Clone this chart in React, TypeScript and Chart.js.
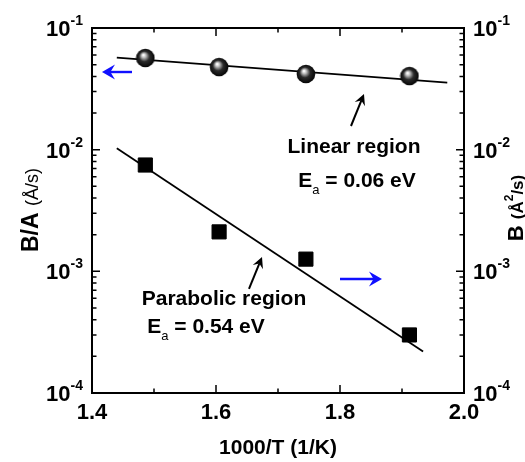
import React, { useEffect, useRef } from "react";
import { Chart, registerables } from "chart.js";

Chart.register(...registerables);

// ---- data ----
const invT = [1.486, 1.605, 1.745, 1.912];
const linearBA = [0.0567, 0.0478, 0.0419, 0.0403];
const parabolicB = [0.00748, 0.00211, 0.00126, 0.0003];
const linearFitX = [1.44, 1.973];
const linearFitY = [0.057, 0.0356];
const parabolicFitX = [1.44, 1.934];
const parabolicFitY = [0.01027, 0.000219];

const xMajorTicks = [1.4, 1.6, 1.8, 2.0];
const xMinorTicks = [1.5, 1.7, 1.9];
const xTickLabels = ["1.4", "1.6", "1.8", "2.0"];
const yDecades = [1e-4, 1e-3, 1e-2, 1e-1];
const yDecadeExponents = ["-4", "-3", "-2", "-1"];

// annotation anchors (data space)
const blueLeftArrow = { x0: 1.4645, x1: 1.4161, y: 0.04348 };
const blueRightArrow = { x0: 1.8, x1: 1.8677, y: 0.000865 };
const linArrow = { x0: 1.8177, y0: 0.01565, x1: 1.8387, y1: 0.02868 };
const parArrow = { x0: 1.6532, y0: 0.000716, x1: 1.6742, y1: 0.001312 };
const linText = { x: 1.8226, y: 0.00939, label: "Linear region" };
const linEa = { x: 1.8274, y: 0.004934, value: " = 0.06 eV" };
const parText = { x: 1.6129, y: 0.000529, label: "Parabolic region" };
const parEa = { x: 1.5839, y: 0.000311, value: " = 0.54 eV" };

const FF = '"Liberation Sans", Arial, Helvetica, sans-serif';
const fBold = (s: number) => `bold ${s}px ${FF}`;
const fNorm = (s: number) => `${s}px ${FF}`;

type Run = { text: string; font: string; dy?: number };

function drawRuns(ctx: CanvasRenderingContext2D, runs: Run[], x: number, y: number, align: "left" | "center" | "right") {
  ctx.save();
  ctx.textAlign = "left";
  ctx.textBaseline = "alphabetic";
  let total = 0;
  const widths = runs.map((r) => {
    ctx.font = r.font;
    const w = ctx.measureText(r.text).width;
    total += w;
    return w;
  });
  let cx = align === "left" ? x : align === "center" ? x - total / 2 : x - total;
  runs.forEach((r, i) => {
    ctx.font = r.font;
    ctx.fillText(r.text, cx, y + (r.dy || 0));
    cx += widths[i];
  });
  ctx.restore();
}

function makeSphere(): HTMLCanvasElement {
  const size = 20;
  const c = document.createElement("canvas");
  c.width = size;
  c.height = size;
  const g = c.getContext("2d")!;
  const grad = g.createRadialGradient(8, 7, 0.5, 10, 10, 10);
  grad.addColorStop(0, "#ffffff");
  grad.addColorStop(0.18, "#bdbdbd");
  grad.addColorStop(0.5, "#2a2a2a");
  grad.addColorStop(1, "#000000");
  g.beginPath();
  g.arc(10, 10, 9.3, 0, Math.PI * 2);
  g.fillStyle = grad;
  g.fill();
  return c;
}

function arrow(ctx: CanvasRenderingContext2D, x0: number, y0: number, x1: number, y1: number, color: string, lw: number, headLen: number, headW: number) {
  const ang = Math.atan2(y1 - y0, x1 - x0);
  ctx.save();
  ctx.strokeStyle = color;
  ctx.fillStyle = color;
  ctx.lineWidth = lw;
  ctx.beginPath();
  ctx.moveTo(x0, y0);
  ctx.lineTo(x1 - Math.cos(ang) * headLen * 0.6, y1 - Math.sin(ang) * headLen * 0.6);
  ctx.stroke();
  ctx.translate(x1, y1);
  ctx.rotate(ang);
  ctx.beginPath();
  ctx.moveTo(0, 0);
  ctx.lineTo(-headLen, -headW / 2);
  ctx.lineTo(-headLen * 0.65, 0);
  ctx.lineTo(-headLen, headW / 2);
  ctx.closePath();
  ctx.fill();
  ctx.restore();
}

const decorPlugin = {
  id: "decor",
  afterDatasetsDraw(chart: any) {
    const ctx: CanvasRenderingContext2D = chart.ctx;
    const { left, right, top, bottom } = chart.chartArea;
    const xs = chart.scales.x;
    const ys = chart.scales.y;
    const X = (v: number) => xs.getPixelForValue(v);
    const Y = (v: number) => ys.getPixelForValue(v);

    ctx.save();
    ctx.strokeStyle = "#000";
    ctx.fillStyle = "#000";
    // frame
    ctx.lineWidth = 2;
    ctx.strokeRect(left, top, right - left, bottom - top);

    // ticks
    ctx.lineWidth = 1.5;
    const major = 8;
    const minor = 4.5;
    ctx.beginPath();
    xMajorTicks.forEach((v) => {
      const px = X(v);
      ctx.moveTo(px, bottom); ctx.lineTo(px, bottom - major);
      ctx.moveTo(px, top); ctx.lineTo(px, top + major);
    });
    xMinorTicks.forEach((v) => {
      const px = X(v);
      ctx.moveTo(px, bottom); ctx.lineTo(px, bottom - minor);
      ctx.moveTo(px, top); ctx.lineTo(px, top + minor);
    });
    yDecades.forEach((d, i) => {
      const py = Y(d);
      ctx.moveTo(left, py); ctx.lineTo(left + major, py);
      ctx.moveTo(right, py); ctx.lineTo(right - major, py);
      if (i < yDecades.length - 1) {
        for (let m = 2; m <= 9; m++) {
          const pm = Y(d * m);
          ctx.moveTo(left, pm); ctx.lineTo(left + minor, pm);
          ctx.moveTo(right, pm); ctx.lineTo(right - minor, pm);
        }
      }
    });
    ctx.stroke();

    // x tick labels
    xMajorTicks.forEach((v, i) => {
      drawRuns(ctx, [{ text: xTickLabels[i], font: fBold(22) }], X(v), bottom + 26, "center");
    });
    // y tick labels left & right
    yDecades.forEach((d, i) => {
      const py = Y(d);
      const runs: Run[] = [
        { text: "10", font: fBold(22) },
        { text: yDecadeExponents[i], font: fBold(14), dy: -11 },
      ];
      drawRuns(ctx, runs, left - 9, py + 8, "right");
      drawRuns(ctx, runs, right + 9, py + 8, "left");
    });

    // x title
    drawRuns(ctx, [{ text: "1000/T (1/K)", font: fBold(21) }], (left + right) / 2, bottom + 61, "center");

    // left y title
    ctx.save();
    ctx.translate(38, 210);
    ctx.rotate(-Math.PI / 2);
    drawRuns(ctx, [
      { text: "B/A ", font: fBold(23) },
      { text: "(Å/s)", font: fNorm(18) },
    ], 0, 0, "center");
    ctx.restore();

    // right y title
    ctx.save();
    ctx.translate(523, 208);
    ctx.rotate(-Math.PI / 2);
    drawRuns(ctx, [
      { text: "B ", font: fBold(22) },
      { text: "(Å", font: fBold(17) },
      { text: "2", font: fBold(12), dy: -10 },
      { text: "/s)", font: fBold(17) },
    ], 0, 0, "center");
    ctx.restore();

    // annotation texts
    drawRuns(ctx, [{ text: linText.label, font: fBold(21) }], X(linText.x), Y(linText.y), "center");
    drawRuns(ctx, [
      { text: "E", font: fBold(21) },
      { text: "a", font: fNorm(13), dy: 7 },
      { text: linEa.value, font: fBold(21) },
    ], X(linEa.x), Y(linEa.y), "center");
    drawRuns(ctx, [{ text: parText.label, font: fBold(21) }], X(parText.x), Y(parText.y), "center");
    drawRuns(ctx, [
      { text: "E", font: fBold(21) },
      { text: "a", font: fNorm(13), dy: 7 },
      { text: parEa.value, font: fBold(21) },
    ], X(parEa.x), Y(parEa.y), "center");

    // arrows
    arrow(ctx, X(blueLeftArrow.x0), Y(blueLeftArrow.y), X(blueLeftArrow.x1), Y(blueLeftArrow.y), "#1010ff", 2.4, 13, 15);
    arrow(ctx, X(blueRightArrow.x0), Y(blueRightArrow.y), X(blueRightArrow.x1), Y(blueRightArrow.y), "#1010ff", 2.4, 13, 15);
    arrow(ctx, X(linArrow.x0), Y(linArrow.y0), X(linArrow.x1), Y(linArrow.y1), "#000", 2, 11, 11);
    arrow(ctx, X(parArrow.x0), Y(parArrow.y0), X(parArrow.x1), Y(parArrow.y1), "#000", 2, 11, 11);

    ctx.restore();
  },
};

export default function App() {
  const ref = useRef<HTMLCanvasElement | null>(null);
  useEffect(() => {
    if (!ref.current) return;
    const sphere = makeSphere();
    const chart = new Chart(ref.current, {
      type: "scatter",
      data: {
        datasets: [
          {
            label: "Linear fit",
            data: linearFitX.map((x, i) => ({ x, y: linearFitY[i] })),
            showLine: true,
            borderColor: "#000",
            borderWidth: 1.8,
            pointRadius: 0,
            yAxisID: "y",
            order: 3,
          },
          {
            label: "Parabolic fit",
            data: parabolicFitX.map((x, i) => ({ x, y: parabolicFitY[i] })),
            showLine: true,
            borderColor: "#000",
            borderWidth: 1.8,
            pointRadius: 0,
            yAxisID: "y2",
            order: 3,
          },
          {
            label: "B/A",
            data: invT.map((x, i) => ({ x, y: linearBA[i] })),
            pointStyle: sphere as any,
            pointRadius: 10,
            yAxisID: "y",
            order: 1,
          },
          {
            label: "B",
            data: invT.map((x, i) => ({ x, y: parabolicB[i] })),
            pointStyle: "rect",
            pointRadius: 10,
            pointBackgroundColor: "#000",
            pointBorderColor: "#000",
            pointBorderWidth: 1,
            yAxisID: "y2",
            order: 1,
          },
        ],
      },
      options: {
        animation: false,
        responsive: true,
        maintainAspectRatio: false,
        layout: { padding: { left: 92, right: 61, top: 28, bottom: 69 } },
        plugins: { legend: { display: false }, tooltip: { enabled: false } },
        scales: {
          x: { type: "linear", min: 1.4, max: 2.0, display: false },
          y: { type: "logarithmic", min: 1e-4, max: 1e-1, display: false },
          y2: { type: "logarithmic", min: 1e-4, max: 1e-1, display: false },
        },
      },
      plugins: [decorPlugin],
    });
    return () => chart.destroy();
  }, []);
  return (
    <div style={{ position: "absolute", left: 0, top: 0, width: 525, height: 462, background: "#fff" }}>
      <canvas ref={ref} />
    </div>
  );
}
